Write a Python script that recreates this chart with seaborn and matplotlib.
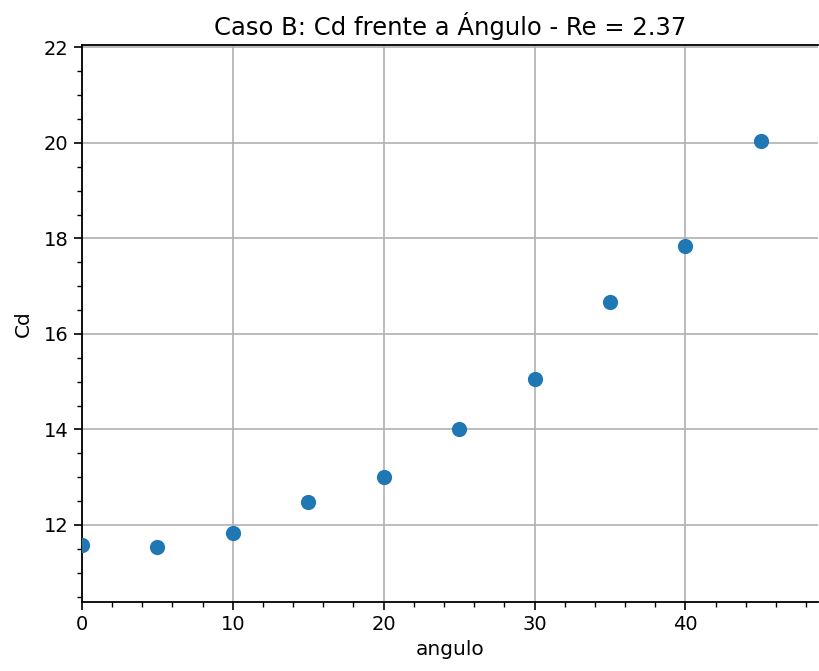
import numpy as np
import pandas as pd
import matplotlib
matplotlib.use("Agg")
import matplotlib.pyplot as plt
import seaborn as sns
from matplotlib.ticker import MultipleLocator

# datos
angulo = [0, 5, 10, 15, 20, 25, 30, 35, 40, 45]
cd = [11.58, 11.54, 11.83, 12.48, 13.00, 14.01, 15.05, 16.67, 17.84, 20.03]

df = pd.DataFrame({"angulo": angulo, "Cd": cd})

sns.set_style("ticks")
plt.rcParams['font.family'] = ['DejaVu Sans']
plt.rcParams['text.color'] = 'black'
plt.rcParams['axes.labelcolor'] = 'black'
plt.rcParams['xtick.color'] = 'black'
plt.rcParams['ytick.color'] = 'black'
plt.rcParams['axes.edgecolor'] = 'black'

fig = plt.figure(figsize=(8.19, 6.71), dpi=100)
ax = fig.add_axes([0.1, 0.103, 0.899, 0.83])
sns.scatterplot(data=df, x="angulo", y="Cd", s=120, color="#1f77b4",
                linewidth=0, ax=ax, zorder=3)

ax.set_xlim(0, 48.8)
ax.set_ylim(10.39, 22.05)
ax.xaxis.set_major_locator(MultipleLocator(10))
ax.xaxis.set_minor_locator(MultipleLocator(2))
ax.yaxis.set_major_locator(MultipleLocator(2))
ax.yaxis.set_minor_locator(MultipleLocator(0.5))
ax.grid(True, which="major", color="#b0b0b0", linewidth=1.2)
ax.tick_params(which="major", labelsize=14, length=6, width=1.2)
ax.tick_params(which="minor", length=3.5, width=1)
ax.spines["right"].set_visible(False)
for s in ["left", "bottom", "top"]:
    ax.spines[s].set_linewidth(1.3)
ax.set_xlabel("angulo", fontsize=14.5)
ax.set_ylabel("Cd", fontsize=14.5, labelpad=8)
ax.set_title("Caso B: Cd frente a Ángulo - Re = 2.37", fontsize=17.5, pad=7)

fig.savefig("out.png", dpi=100)
